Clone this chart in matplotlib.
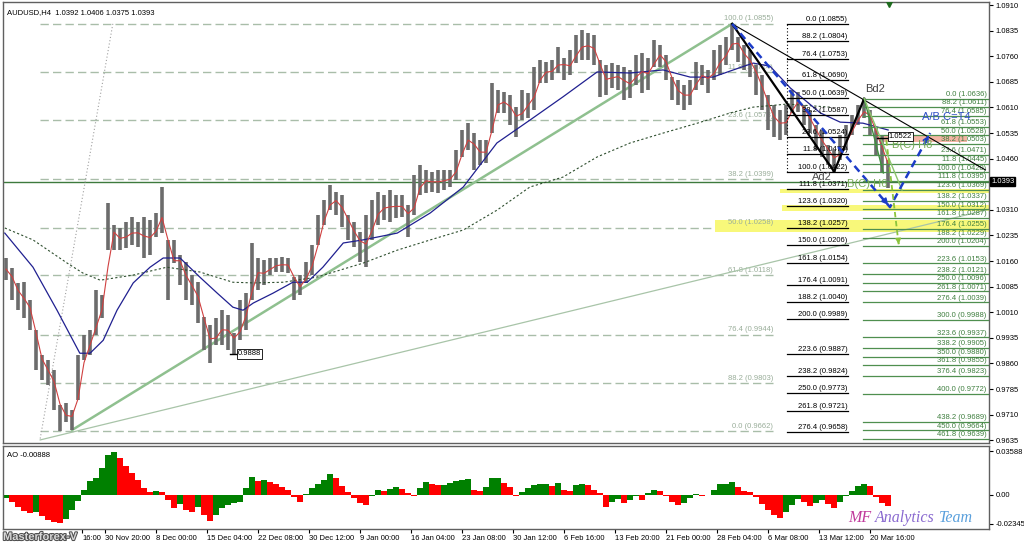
import matplotlib
matplotlib.use("Agg")
import matplotlib.pyplot as plt
import matplotlib.transforms as mtransforms
import matplotlib.patheffects as pe
import numpy as np
import pandas as pd

plt.rcParams['font.family'] = ['Liberation Sans', 'DejaVu Sans']

# ---- price bars (each bar ~ 5 H4 candles) ----
hi = [1.0169, 1.0139, 1.0096, 1.0098, 1.0046, 0.9958, 0.9884, 0.9870, 0.9841, 0.9738,
      0.9744, 0.9723, 0.9884, 0.9943, 0.9958, 1.0075, 1.0060, 1.0330, 1.0265, 1.0257,
      1.0274, 1.0289, 1.0274, 1.0289, 1.0280, 1.0301, 1.0377, 1.0222, 1.0222, 1.0178,
      1.0157, 1.0119, 1.0098, 0.9996, 0.9972, 0.9993, 1.0016, 1.0002, 0.9949, 1.0046,
      1.0066, 1.0213, 1.0169, 1.0163, 1.0169, 1.0169, 1.0172, 1.0169, 1.0113, 1.0119,
      1.0157, 1.0207, 1.0295, 1.0339, 1.0383, 1.0362, 1.0353, 1.0295, 1.0274, 1.0245,
      1.0295, 1.0339, 1.0362, 1.0353, 1.0368, 1.0353, 1.0353, 1.0324, 1.0412, 1.0441,
      1.0427, 1.0421, 1.0427, 1.0427, 1.0427, 1.0485, 1.0544, 1.0564, 1.0535, 1.0514,
      1.0514, 1.0681, 1.0661, 1.0655, 1.0646, 1.0611, 1.0661, 1.0652, 1.0728, 1.0749,
      1.0743, 1.0749, 1.0787, 1.0755, 1.0778, 1.0822, 1.0837, 1.0828, 1.0822, 1.0749,
      1.0734, 1.0740, 1.0734, 1.0728, 1.0720, 1.0763, 1.0769, 1.0755, 1.0807, 1.0793,
      1.0763, 1.0699, 1.0690, 1.0676, 1.0690, 1.0743, 1.0734, 1.0720, 1.0778, 1.0793,
      1.0816, 1.0855, 1.0816, 1.0793, 1.0778, 1.0734, 1.0705, 1.0646, 1.0617, 1.0602,
      1.0617, 1.0661, 1.0655, 1.0617, 1.0602, 1.0558, 1.0544, 1.0500, 1.0485, 1.0529,
      1.0558, 1.0588, 1.0617, 1.0636, 1.0602, 1.0550, 1.0529, 1.0456]
lo = [1.0104, 1.0046, 1.0016, 0.9993, 0.9958, 0.9841, 0.9811, 0.9797, 0.9723, 0.9662,
      0.9688, 0.9665, 0.9753, 0.9870, 0.9884, 0.9943, 0.9993, 1.0192, 1.0192, 1.0192,
      1.0198, 1.0207, 1.0201, 1.0169, 1.0178, 1.0230, 1.0242, 1.0046, 1.0154, 1.0090,
      1.0046, 1.0031, 0.9978, 0.9899, 0.9861, 0.9913, 0.9913, 0.9899, 0.9888, 0.9928,
      0.9958, 1.0046, 1.0075, 1.0090, 1.0119, 1.0128, 1.0128, 1.0125, 1.0046, 1.0060,
      1.0096, 1.0119, 1.0207, 1.0265, 1.0309, 1.0295, 1.0260, 1.0222, 1.0201, 1.0157,
      1.0142, 1.0222, 1.0265, 1.0280, 1.0274, 1.0286, 1.0289, 1.0230, 1.0295, 1.0353,
      1.0359, 1.0362, 1.0359, 1.0368, 1.0377, 1.0397, 1.0465, 1.0485, 1.0427, 1.0441,
      1.0447, 1.0535, 1.0594, 1.0594, 1.0558, 1.0523, 1.0573, 1.0579, 1.0602, 1.0681,
      1.0681, 1.0690, 1.0711, 1.0690, 1.0705, 1.0740, 1.0749, 1.0749, 1.0734, 1.0641,
      1.0646, 1.0667, 1.0661, 1.0632, 1.0638, 1.0676, 1.0652, 1.0661, 1.0728, 1.0728,
      1.0690, 1.0632, 1.0617, 1.0602, 1.0617, 1.0661, 1.0676, 1.0652, 1.0690, 1.0705,
      1.0734, 1.0778, 1.0743, 1.0720, 1.0699, 1.0646, 1.0602, 1.0544, 1.0523, 1.0514,
      1.0529, 1.0594, 1.0597, 1.0558, 1.0535, 1.0485, 1.0465, 1.0441, 1.0422, 1.0456,
      1.0485, 1.0529, 1.0558, 1.0579, 1.0529, 1.0471, 1.0421, 1.0375]

# moving averages (bar position, price)
ma_mid_x = [-0.2, 4.5, 8.5, 12.3, 14, 16.2, 18.5, 21.2, 24, 26.2, 29, 32.3, 35.2, 37.8, 39.5,
            41.2, 44.5, 47.8, 50.2, 52.8, 56.2, 59.5, 65.2, 70.7, 76.2, 81.8, 87.3, 92.8,
            98.5, 104, 109.5, 114, 117.8, 121.2, 124.5, 127.3, 130.7, 135.7, 139, 142.8, 147]
ma_mid_y = [1.0242, 1.0142, 1.0016, 0.9890, 0.9890, 0.9928, 1.0016, 1.0096, 1.0142, 1.0169,
            1.0169, 1.0113, 1.0066, 1.0025, 1.0016, 1.0037, 1.0066, 1.0098, 1.0098, 1.0142,
            1.0213, 1.0222, 1.0242, 1.0301, 1.0377, 1.0506, 1.0573, 1.0641, 1.0714, 1.0711,
            1.0720, 1.0699, 1.0699, 1.0720, 1.0740, 1.0731, 1.0667, 1.0594, 1.0567, 1.0564,
            1.0544]
ma_slow_x = [-0.2, 4.5, 10.2, 12.8, 15.7, 21.2, 26.8, 32.3, 37.8, 41.2, 46.2, 51.8, 59.5,
             65.2, 70.7, 76.2, 81.8, 87.3, 92.8, 98.5, 104, 109.5, 115.2, 120.7, 124.5,
             130.2, 137.3]
ma_slow_y = [1.0257, 1.0222, 1.0154, 1.0125, 1.0104, 1.0119, 1.0142, 1.0128, 1.0098, 1.0096,
             1.0098, 1.0113, 1.0154, 1.0192, 1.0222, 1.0251, 1.0309, 1.0377, 1.0406, 1.0465,
             1.0506, 1.0535, 1.0564, 1.0594, 1.0611, 1.0620, 1.0611]

# Awesome Oscillator
ao_vals = [-0.0025, -0.0057, -0.0098, -0.0131, -0.0148, -0.0139, -0.0172, -0.0205, -0.0221, -0.0232,
           -0.0197, -0.0123, -0.0049, 0.0041, 0.0115, 0.0139, 0.0221, 0.0328, 0.0355, 0.0303,
           0.0238, 0.0180, 0.0123, 0.0057, 0.0025, 0.0033, 0.0025, -0.0041, -0.0107, -0.0074,
           -0.0123, -0.0139, -0.0098, -0.0164, -0.0213, -0.0164, -0.0107, -0.0082, -0.0066, -0.0057,
           0.0057, 0.0148, 0.0115, 0.0123, 0.0107, 0.0090, 0.0066, 0.0041, -0.0016, -0.0057,
           0.0008, 0.0057, 0.0090, 0.0123, 0.0172, 0.0139, 0.0074, 0.0025, -0.0025, -0.0066,
           -0.0082, -0.0008, 0.0041, 0.0033, 0.0049, 0.0066, 0.0049, 0.0016, -0.0008, 0.0057,
           0.0107, 0.0090, 0.0082, 0.0082, 0.0098, 0.0115, 0.0123, 0.0131, 0.0041, 0.0033,
           0.0066, 0.0139, 0.0139, 0.0098, 0.0066, -0.0008, 0.0025, 0.0057, 0.0082, 0.0090,
           0.0090, 0.0074, 0.0098, 0.0041, 0.0033, 0.0082, 0.0090, 0.0082, 0.0041, 0.0016,
           -0.0098, -0.0057, -0.0033, -0.0066, -0.0041, -0.0008, -0.0041, 0.0016, 0.0041, 0.0033,
           -0.0008, -0.0057, -0.0082, -0.0066, -0.0025, 0.0008, -0.0008, 0.0003, 0.0041, 0.0090,
           0.0090, 0.0107, 0.0066, 0.0033, 0.0025, -0.0016, -0.0074, -0.0123, -0.0164, -0.0189,
           -0.0139, -0.0082, -0.0033, -0.0057, -0.0090, -0.0066, -0.0041, -0.0074, -0.0107, -0.0057,
           -0.0008, 0.0033, 0.0074, 0.0090, 0.0074, -0.0016, -0.0066, -0.0089]

# first label is mostly hidden by the watermark; only its time shows
time_labels = ["16:00", "30 Nov 20:00", "8 Dec 00:00", "15 Dec 04:00", "22 Dec 08:00",
               "30 Dec 12:00", "9 Jan 00:00", "16 Jan 04:00", "23 Jan 08:00", "30 Jan 12:00",
               "6 Feb 16:00", "13 Feb 20:00", "21 Feb 00:00", "28 Feb 04:00", "6 Mar 08:00",
               "13 Mar 12:00", "20 Mar 16:00"]
price_ticks = [1.0910, 1.0835, 1.0760, 1.0685, 1.0610, 1.0535, 1.0460, 1.0310, 1.0235,
               1.0160, 1.0085, 1.0010, 0.9935, 0.9860, 0.9785, 0.9710, 0.9635]

# fibonacci sets: level, price
big_lvls = [100.0, 11.8, 23.6, 38.2, 50.0, 61.8, 76.4, 88.2, 0.0]
big_prices = [1.0855, 1.0714, 1.0573, 1.0399, 1.0258, 1.0118, 0.9944, 0.9803, 0.9662]
blk_lvls = [0.0, 88.2, 76.4, 61.8, 50.0, 38.2, 23.6, 11.8, 100.0, 111.8, 123.6, 138.2, 150.0,
            161.8, 176.4, 188.2, 200.0, 223.6, 238.2, 250.0, 261.8, 276.4]
blk_prices = [1.0855, 1.0804, 1.0753, 1.0690, 1.0639, 1.0587, 1.0524, 1.0473, 1.0422, 1.0371,
              1.0320, 1.0257, 1.0206, 1.0154, 1.0091, 1.0040, 0.9989, 0.9887, 0.9824, 0.9773,
              0.9721, 0.9658]
grn_lvls = [0.0, 88.2, 76.4, 61.8, 50.0, 38.2, 23.6, 11.8, 100.0, 111.8, 123.6, 138.2, 150.0,
            161.8, 176.4, 188.2, 200.0, 223.6, 238.2, 250.0, 261.8, 276.4, 300.0, 323.6, 338.2,
            350.0, 361.8, 376.4, 400.0, 438.2, 450.0, 461.8]
grn_prices = [1.0636, 1.0611, 1.0585, 1.0553, 1.0528, 1.0503, 1.0471, 1.0445, 1.0420, 1.0395,
              1.0369, 1.0337, 1.0312, 1.0287, 1.0255, 1.0229, 1.0204, 1.0153, 1.0121, 1.0096,
              1.0071, 1.0039, 0.9988, 0.9937, 0.9905, 0.9880, 0.9855, 0.9823, 0.9772, 0.9689,
              0.9664, 0.9639]

last_price = 1.0393

# ---------------------------------------------------------------
fig = plt.figure(figsize=(10.24, 5.44), dpi=100)
W, H = 1024, 544
ax = fig.add_axes([3 / W, 101 / H, 986 / W, 441 / H])
ax2 = fig.add_axes([3 / W, 15 / H, 986 / W, 83 / H], sharex=ax)

x = np.arange(len(hi))
hi = np.array(hi)
lo = np.array(lo)
mid = pd.Series((hi + lo) / 2).rolling(2, min_periods=1).mean()

ax.set_xlim(-0.5, 163.8)
ax.set_ylim(0.9627, 1.0919)

small = 5.5
fib_gray = '#a9bda9'

# big retracement (dashed gray-green)
for lv, p in zip(big_lvls, big_prices):
    ax.plot([5.7, 127.8], [p, p], color=fib_gray, lw=1.0, ls=(0, (6, 3)), zorder=1)
    ax.text(127.8, p + 0.0004, f"{lv:.1f} ({p:.4f})", color='#9aae9a', fontsize=small,
            ha='right', va='bottom', zorder=2)

# highlight bands
for x0, x1, y0, y1 in [(129.0, 163.8, 1.0358, 1.0372), (129.3, 163.8, 1.0306, 1.0324),
                       (118.2, 163.8, 1.0245, 1.0280)]:
    ax.fill_between([x0, x1], y0, y1, color='#f8f87a', lw=0, zorder=1)
ax.fill_between([145.7, 160.2], 1.0509, 1.0529, color='#f4b4a4', lw=0, zorder=1)

# current price line
ax.axhline(last_price, color='#3d7a3d', lw=1.0, zorder=2)

# trend lines
ax.plot([5.7, 17.8], [0.9640, 1.0855], color='#a0a0a0', lw=0.8, ls=(0, (1, 2)), zorder=2)
ax.plot([5.7, 163.7], [0.9636, 1.0311], color='#a8c4a8', lw=0.9, zorder=2)
ax.plot([11, 121], [0.9665, 1.0855], color='#8fc08f', lw=1.8, zorder=2)

# price bars and averages
ax.vlines(x, lo, hi, color='#6c6c6c', lw=2.6, zorder=3)
ax.plot(ma_slow_x, ma_slow_y, color='#2f4f2f', lw=0.8, ls=(0, (2, 2)), zorder=4)
ax.plot(ma_mid_x, ma_mid_y, color='#202090', lw=0.9, zorder=4)
ax.plot(x, mid, color='#d04040', lw=0.8, zorder=4)

# black fibo
for lv, p in zip(blk_lvls, blk_prices):
    ax.plot([130.2, 140.3], [p, p], color='black', lw=0.9, zorder=5)
    ax.text(140.2, p + 0.0003, f"{lv:.1f} ({p:.4f})", color='black', fontsize=small,
            ha='right', va='bottom', zorder=6)
ax.plot([130.2, 130.2], [1.0422, 1.0855], color='black', lw=0.8, ls=(0, (1, 2)), zorder=5)

# green fibo
for lv, p in zip(grn_lvls, grn_prices):
    ax.plot([142.8, 163.7], [p, p], color='#4f8f4f', lw=0.9, zorder=5)
    ax.text(163.4, p + 0.0002, f"{lv:.1f} ({p:.4f})", color='#3f7f3f', fontsize=small,
            ha='right', va='bottom', zorder=6)

# pattern lines
ax.plot([121, 163.2], [1.0855, 1.0427], color='black', lw=0.8, zorder=6)
ax.plot([121, 138, 143], [1.0855, 1.0422, 1.0636], color='black', lw=1.6, zorder=6)

blue = '#1c3cc8'
ax.plot([121, 147.3, 154], [1.0855, 1.0318, 1.0535], color=blue, lw=1.8,
        ls=(0, (3, 2)), zorder=7)
ax.annotate('', xy=(147.3, 1.0318), xytext=(146.6, 1.0333),
            arrowprops=dict(arrowstyle='-|>', color=blue, lw=1.2, mutation_scale=9), zorder=7)
ax.annotate('', xy=(154, 1.0535), xytext=(153.4, 1.0516),
            arrowprops=dict(arrowstyle='-|>', color=blue, lw=1.2, mutation_scale=9), zorder=7)

ax.plot([143, 146.2], [1.0636, 1.0418], color='#3f8f3f', lw=1.0, zorder=6)
ax.plot([143, 149.3], [1.0636, 1.0368], color='#8cc46c', lw=1.0, zorder=6)
ax.plot([146.7, 148.8], [1.0514, 1.0201], color='#8cc43c', lw=1.3, ls=(0, (3, 2)), zorder=7)
ax.annotate('', xy=(148.8, 1.0201), xytext=(148.7, 1.0220),
            arrowprops=dict(arrowstyle='-|>', color='#8cc43c', lw=1.0, mutation_scale=8),
            zorder=7)

# pattern texts
ax.text(136, 1.0406, 'Ad2', color='#505050', fontsize=8, ha='center', va='center', zorder=8)
ax.text(144.8, 1.0663, 'Bd2', color='#404040', fontsize=8, ha='center', va='center', zorder=8)
ax.text(152.7, 1.0581, 'A/B C=T4', color='#3050c8', fontsize=8, ha='left', va='center', zorder=8)
ax.text(147.6, 1.0500, 'B(C) H8', color='#78ac58', fontsize=8, ha='left', va='center', zorder=8)
ax.text(140.2, 1.0385, 'B(C) H6', color='#78ac58', fontsize=8, ha='left', va='center', zorder=8)
ax.plot([147.2], [1.0914], marker='v', color='#1e6b1e', ms=5, zorder=8)

# price label boxes
box = dict(boxstyle='square,pad=0.15', fc='white', ec='black', lw=0.6)
ax.plot([145.2, 147.0], [1.0522, 1.0522], color='black', lw=1.0, zorder=8)
ax.text(147.1, 1.0524, '1.0522', fontsize=small, ha='left', va='center', bbox=box, zorder=9)
ax.plot([37.3, 38.5], [0.9888, 0.9888], color='black', lw=1.0, zorder=8)
ax.text(38.6, 0.9888, '0.9888', fontsize=small, ha='left', va='center', bbox=box, zorder=9)

# axes styling
for a in (ax, ax2):
    for s in a.spines.values():
        s.set_color('#606060')
        s.set_linewidth(1.0)
    a.yaxis.tick_right()
    a.tick_params(axis='y', direction='out', length=3, pad=2, labelsize=small, colors='black')

ax.set_yticks(price_ticks)
ax.set_yticklabels([f"{p:.4f}" for p in price_ticks])
ax.tick_params(axis='x', bottom=False, labelbottom=False)

trans = mtransforms.blended_transform_factory(ax.transAxes, ax.transData)
ax.text(1.002, last_price, f"{last_price:.4f}", transform=trans, fontsize=small, color='white',
        ha='left', va='center', bbox=dict(boxstyle='square,pad=0.15', fc='black', ec='black'),
        zorder=10, clip_on=False)

ax.text(0.004, 0.985, 'AUDUSD,H4  1.0392 1.0406 1.0375 1.0393', transform=ax.transAxes,
        fontsize=small, ha='left', va='top')

# AO panel
ao = np.array(ao_vals)
prev = np.concatenate([[ao[0]], ao[:-1]])
colors = np.where(ao >= prev, '#008000', '#ff0000')
ax2.bar(x, ao, width=1.0, color=colors, linewidth=0)
ax2.set_ylim(-0.0279, 0.0402)
ax2.set_yticks([0.03588, 0.0, -0.02345])
ax2.set_yticklabels(['0.03588', '0.00', '-0.02345'])
ax2.text(0.004, 0.93, 'AO -0.00888', transform=ax2.transAxes, fontsize=small,
         ha='left', va='top')

tick_pos = [12.7] + [8.0 + 8.5 * j for j in range(1, len(time_labels))]
ax2.set_xticks(tick_pos)
ax2.set_xticklabels(time_labels, ha='left')
ax2.tick_params(axis='x', direction='out', length=3, pad=1, labelsize=small)

# watermark / signature
fig.text(3 / W, 1 - 537 / H, 'Masterforex-V', fontsize=8, fontweight='bold', color='#d8d8d8',
         ha='left', va='center',
         path_effects=[pe.withStroke(linewidth=1.5, foreground='#505050')])

r = fig.canvas.get_renderer()
xx = 848 / W
for s, c in [('MF ', '#c03a9c'), ('Analytics ', '#8a6ad0'), ('Team', '#5aa0dc')]:
    t = fig.text(xx, 1 - 518 / H, s, fontsize=11.5, family='Liberation Serif', style='italic',
                 color=c, ha='left', va='center')
    xx += t.get_window_extent(renderer=r).width / fig.bbox.width

fig.savefig('out.png', dpi=100)
